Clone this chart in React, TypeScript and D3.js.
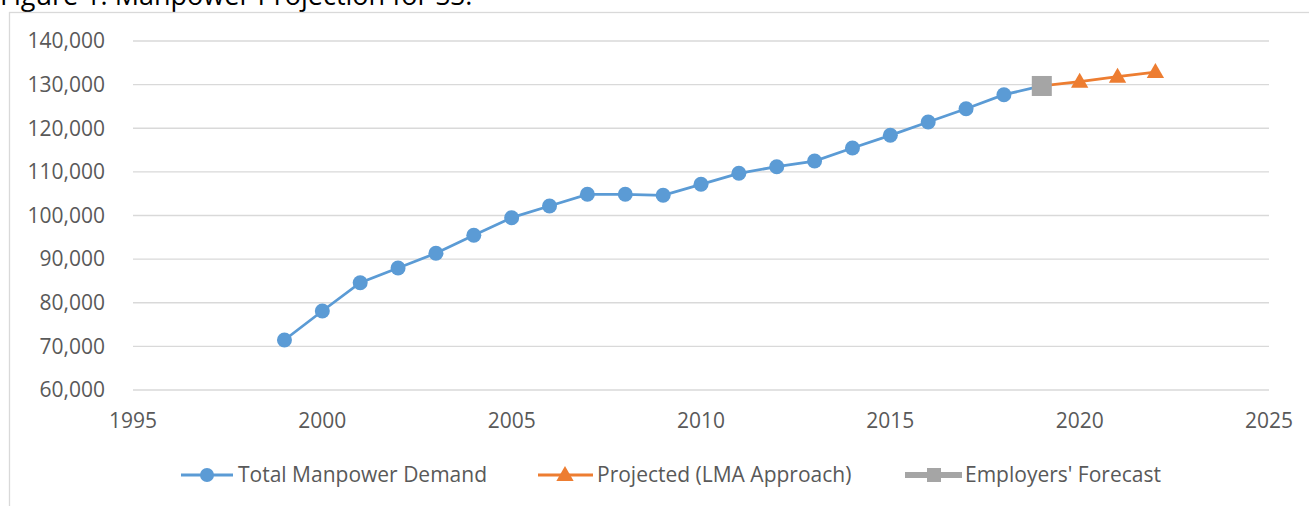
import React from "react"
import * as d3 from "d3"

// data
const demandYears = [1999, 2000, 2001, 2002, 2003, 2004, 2005, 2006, 2007, 2008, 2009, 2010, 2011, 2012, 2013, 2014, 2015, 2016, 2017, 2018, 2019]
const demandValues = [71460, 78110, 84600, 87970, 91340, 95460, 99500, 102180, 104860, 104860, 104630, 107150, 109670, 111190, 112490, 115470, 118380, 121430, 124480, 127690, 129690]
const projectedYears = [2019, 2020, 2021, 2022]
const projectedValues = [129690, 130670, 131820, 132890]
const forecastYears = [2019]
const forecastValues = [129690]

const xTicks = [1995, 2000, 2005, 2010, 2015, 2020, 2025]
const yTicks = [60000, 70000, 80000, 90000, 100000, 110000, 120000, 130000, 140000]
const legendLabels = ["Total Manpower Demand", "Projected (LMA Approach)", "Employers' Forecast"]

const W = 1309
const H = 506
const FONT = "'Open Sans', sans-serif"
const BLUE = "#5B9BD5"
const ORANGE = "#ED7D31"
const GRAY = "#A5A5A5"
const TXT = "#595959"

export default function App() {
  const x = d3.scaleLinear().domain([1995, 2025]).range([133, 1269])
  const y = d3.scaleLinear().domain([60000, 140000]).range([390, 41])

  const line = d3.line<[number, number]>().x(d => x(d[0])).y(d => y(d[1]))
  const demand = demandYears.map((yr, i) => [yr, demandValues[i]] as [number, number])
  const projected = projectedYears.map((yr, i) => [yr, projectedValues[i]] as [number, number])
  const forecast = forecastYears.map((yr, i) => [yr, forecastValues[i]] as [number, number])

  const tri = d3.symbol().type(d3.symbolTriangle).size(130)
  const fmt = d3.format(",")

  return (
    <div style={{ position: "absolute", left: 0, top: 0 }}>
      <svg width={W} height={H} style={{ display: "block" }} fontFamily={FONT}>
        <rect width={W} height={H} fill="#fff" />
        {/* title, cut off at the top like in the source */}
        <text x={0} y={5} fontSize={27} fill="#000">Figure 1: Manpower Projection for SS.</text>
        {/* chart frame */}
        <rect x={9.5} y={12.5} width={1400} height={600} fill="none" stroke="#d9d9d9" strokeWidth={1.3} />

        {yTicks.map(t => (
          <g key={t}>
            <line x1={133} x2={1269} y1={y(t)} y2={y(t)} stroke="#d9d9d9" strokeWidth={1.3} />
            <text x={105} y={y(t)} dy="0.35em" textAnchor="end" fontSize={21} fill={TXT}>{fmt(t)}</text>
          </g>
        ))}
        {xTicks.map(t => (
          <text key={t} x={x(t)} y={428} textAnchor="middle" fontSize={21} fill={TXT}>{t}</text>
        ))}

        <path d={line(demand)!} fill="none" stroke={BLUE} strokeWidth={2.8} />
        {demand.map((d, i) => (
          <circle key={i} cx={x(d[0])} cy={y(d[1])} r={7.5} fill={BLUE} />
        ))}
        <path d={line(projected)!} fill="none" stroke={ORANGE} strokeWidth={2.8} />
        {projected.map((d, i) => (
          <path key={i} d={tri()!} transform={`translate(${x(d[0])},${y(d[1]) + 1})`} fill={ORANGE} />
        ))}
        {forecast.map((d, i) => (
          <rect key={i} x={x(d[0]) - 10} y={y(d[1]) - 10} width={20} height={20} fill={GRAY} />
        ))}

        {/* legend */}
        <g fontSize={21} fill={TXT}>
          <line x1={181} x2={233} y1={475} y2={475} stroke={BLUE} strokeWidth={2.8} />
          <circle cx={207} cy={475} r={7} fill={BLUE} />
          <text x={238} y={482}>{legendLabels[0]}</text>

          <line x1={538} x2={593} y1={475} y2={475} stroke={ORANGE} strokeWidth={2.8} />
          <path d={tri()!} transform="translate(565,476)" fill={ORANGE} />
          <text x={597} y={482}>{legendLabels[1]}</text>

          <line x1={905} x2={962} y1={475} y2={475} stroke={GRAY} strokeWidth={6} />
          <rect x={927} y={468} width={14} height={14} fill={GRAY} />
          <text x={965} y={482}>{legendLabels[2]}</text>
        </g>
      </svg>
    </div>
  )
}
